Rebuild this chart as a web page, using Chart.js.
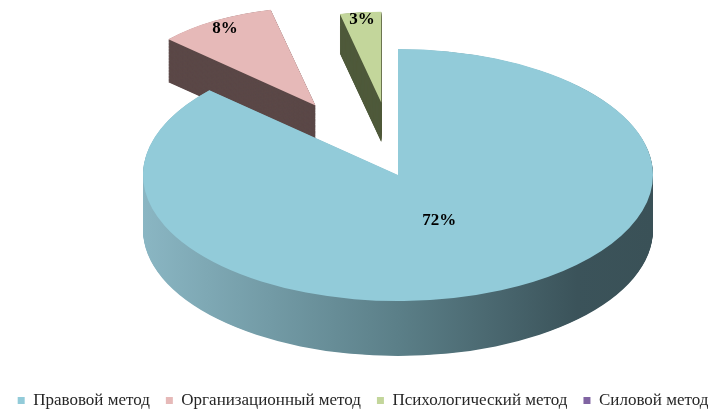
<!DOCTYPE html>
<html>
<head>
<meta charset="utf-8">
<script src="https://cdn.jsdelivr.net/npm/chart.js@4.4.1/dist/chart.umd.min.js"></script>
<style>
  html, body { margin: 0; padding: 0; background: #fff; }
  #wrap { width: 726px; height: 412px; }
</style>
</head>
<body>
<div id="wrap"><canvas id="chart"></canvas></div>
<script>
const labels = ['Правовой метод', 'Организационный метод', 'Психологический метод', 'Силовой метод'];
const values = [72, 8, 3, 0];

const topColors = ['#92cbd9', '#e6b9b8', '#c3d69b', '#8064a2'];
const sideColors = [null, '#5b4847', '#4f5a3b', '#4b3b60'];
const explode = [0, 0.64, 0.58, 0];   // share of radius, along the slice bisector
const shrink = [1, 0.78, 0.72, 1];    // slices at the back look smaller
const labelAt = [0.4, 0.9, 0.92, 0.5];

// where the flattened pie sits on the page
const CX = 398, CY = 175, RX = 255, RY = 126, DEPTH = 55;

function sliceFrame(ctx, el, i, x, y, R) {
    const m = (el.startAngle + el.endAngle) / 2;
    ctx.translate(x + Math.cos(m) * explode[i] * R, y + Math.sin(m) * explode[i] * R);
    ctx.scale(shrink[i], shrink[i]);
    ctx.translate(-x, -y);
}

const pie3d = {
    id: 'pie3d',
    beforeDatasetsDraw(chart) {
        const ctx = chart.ctx;
        const arcs = chart.getDatasetMeta(0).data;
        const { x, y, outerRadius: R } = arcs[0];
        const sx = RX / R, sy = RY / R;

        // back slices first, front ones last
        const order = arcs.map((a, i) => i)
            .filter(i => arcs[i].circumference > 0)
            .sort((a, b) => Math.sin((arcs[a].startAngle + arcs[a].endAngle) / 2) -
                            Math.sin((arcs[b].startAngle + arcs[b].endAngle) / 2));

        ctx.save();
        ctx.translate(CX, CY);
        ctx.scale(sx, sy);
        ctx.translate(-x, -y);

        order.forEach(i => {
            const el = arcs[i];
            ctx.save();
            sliceFrame(ctx, el, i, x, y, R);

            let fill = sideColors[i];
            if (!fill) {
                fill = ctx.createLinearGradient(x - R, 0, x + R, 0);
                fill.addColorStop(0, '#8ab6c3');
                fill.addColorStop(0.5, '#5b7f88');
                fill.addColorStop(0.85, '#3b535a');
                fill.addColorStop(1, '#3a5157');
            }
            ctx.fillStyle = fill;
            const d = DEPTH / sy;
            for (let k = d; k > 0; k -= 0.7 / sy) {
                ctx.beginPath();
                ctx.moveTo(x, y + k);
                ctx.arc(x, y + k, R, el.startAngle, el.endAngle);
                ctx.closePath();
                ctx.fill();
            }
            el.draw(ctx);
            ctx.restore();
        });
        ctx.restore();
        return false;
    },
    afterDraw(chart) {
        const ctx = chart.ctx;
        const arcs = chart.getDatasetMeta(0).data;
        const { outerRadius: R } = arcs[0];
        const sx = RX / R, sy = RY / R;
        ctx.save();
        ctx.font = 'bold 17px "Liberation Serif"';
        ctx.fillStyle = '#000';
        ctx.textAlign = 'center';
        ctx.textBaseline = 'middle';
        arcs.forEach((el, i) => {
            if (!values[i]) return;
            const m = (el.startAngle + el.endAngle) / 2;
            const r = (explode[i] + shrink[i] * labelAt[i]) * R;
            ctx.fillText(values[i] + '%', CX + Math.cos(m) * r * sx, CY + Math.sin(m) * r * sy);
        });
        ctx.restore();
    }
};

new Chart(document.getElementById('chart'), {
    type: 'pie',
    data: {
        labels: labels,
        datasets: [{
            data: values,
            backgroundColor: topColors,
            borderWidth: 0,
            clip: false
        }]
    },
    options: {
        responsive: true,
        maintainAspectRatio: false,
        animation: false,
        events: [],
        layout: { padding: { bottom: -7 } },
        plugins: {
            legend: {
                position: 'bottom',
                labels: {
                    boxWidth: 7,
                    boxHeight: 7,
                    padding: 16,
                    color: '#262626',
                    font: { family: '"Liberation Serif"', size: 17 }
                }
            },
            tooltip: { enabled: false }
        }
    },
    plugins: [pie3d]
});
</script>
</body>
</html>
